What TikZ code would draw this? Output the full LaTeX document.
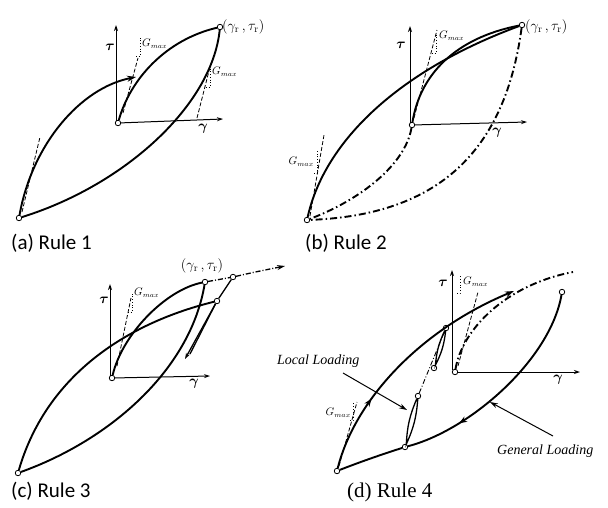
\documentclass[tikz,border=0pt]{standalone}
\usepackage{fontspec}
\newfontfamily\carlito{Carlito}
\newfontfamily\lserif{Liberation Serif}
\usetikzlibrary{arrows.meta,decorations.markings}
\tikzset{
  curve/.style={line width=1.9pt},
  thinc/.style={line width=1.3pt},
  axis/.style={line width=1.0pt,-{Stealth[length=6pt,width=4pt]}},
  tang/.style={line width=0.8pt,dash pattern=on 4pt off 2pt},
  mk/.style={line width=0.7pt,dotted},
  dd/.style={line width=1.9pt,dash pattern=on 7pt off 3pt on 1.5pt off 3pt},
  ddthin/.style={line width=0.9pt,dash pattern=on 5pt off 2pt on 1pt off 2pt},
  pt/.style={circle,draw,fill=white,inner sep=0pt,minimum size=5.5pt,line width=0.8pt},
  gm/.style={inner sep=0pt,font=\fontsize{10.5}{11}\selectfont},
  axl/.style={inner sep=0pt,font=\fontsize{13.5}{14}\selectfont\boldmath},
  rl/.style={inner sep=0pt,font=\fontsize{14.5}{16}\selectfont},
  capt/.style={inner sep=0pt,anchor=base west,font=\carlito\fontsize{21}{24}\selectfont},
  ll/.style={inner sep=0pt,font=\lserif\itshape\fontsize{14}{16}\selectfont},
  bigarr/.style={-{Stealth[length=9pt,width=6pt]}},
  midarr/.style={postaction={decorate},decoration={markings,mark=at position #1 with {\arrow{Stealth[length=8pt,width=6pt]}}}}
}
\begin{document}
\begin{tikzpicture}[x=1pt,y=-1pt]
\useasboundingbox (0,0) rectangle (608,507);
% ================= (a) =================
\node[pt] (aO) at (118,123) {};
\node[pt] (aR) at (220,27) {};
\node[pt] (aL) at (19,218) {};
\coordinate (aTb) at (116,121); \coordinate (aTy) at (116,25);
\coordinate (aGx) at (223,119);
\coordinate (aE) at (136,77);
\draw[axis] (aTb) -- (aTy);
\draw[axis] (aO) -- (aGx);
\draw[curve] (aO) .. controls (130,80) and (165,40) .. (aR);
\draw[curve] (aL) .. controls (125,185) and (212,105) .. (aR);
\draw[curve,bigarr] (aL) .. controls (32,145) and (80,88) .. (aE);
\draw[tang] (22,212) -- (40,137);
\draw[tang] (123,113) -- (138,58);
\draw[tang] (197,118) -- (210,67);
\draw[mk] (136,56) -- (140,56) -- (140,38);
\draw[mk] (206,87) -- (210,87) -- (210,68);
\node[gm,anchor=west] (aG1) at (142,44) {$G_{max}$};
\node[gm,anchor=west] (aG2) at (212,72) {$G_{max}$};
\node[axl] (aTau) at (110,47) {$\tau$};
\node[axl] (aGam) at (203,129) {$\gamma$};
\node[rl,anchor=west] (aRl) at (222,27) {$(\gamma_{\mathrm{r}}\,,\tau_{\mathrm{r}})$};
\node[capt] (aCap) at (11,249) {(a) Rule 1};
% ================= (b) =================
\node[pt] (bO) at (412,125) {};
\node[pt] (bR) at (522,25) {};
\node[pt] (bL) at (307,220) {};
\coordinate (bTb) at (410,123); \coordinate (bTy) at (410,26);
\coordinate (bGx) at (527,122);
\draw[axis] (bTb) -- (bTy);
\draw[axis] (bO) -- (bGx);
\draw[curve] (bL) .. controls (325,140) and (400,70) .. (bR);
\draw[curve] (bO) .. controls (420,75) and (455,38) .. (bR);
\draw[dd] (bO) .. controls (405,165) and (360,200) .. (bL);
\draw[dd] (bR) .. controls (505,150) and (440,215) .. (bL);
\draw[tang] (310,216) -- (324,135);
\draw[tang] (414,118) -- (437,30);
\draw[mk] (314,173) -- (317,173) -- (317,150);
\draw[mk] (432,53) -- (436,53) -- (436,33);
\node[gm,anchor=east] (bG1) at (314,162) {$G_{max}$};
\node[gm,anchor=west] (bG2) at (439,36) {$G_{max}$};
\node[axl] (bTau) at (401,45) {$\tau$};
\node[axl] (bGam) at (497,133) {$\gamma$};
\node[rl,anchor=west] (bRl) at (525,27) {$(\gamma_{\mathrm{r}}\,,\tau_{\mathrm{r}})$};
\node[capt] (bCap) at (305,249) {(b) Rule 2};
% ================= (c) =================
\node[pt] (cO) at (112,378) {};
\node[pt] (cR) at (205,282) {};
\node[pt] (cA) at (217,301) {};
\node[pt] (cB) at (233,277) {};
\node[pt] (cL) at (18,473) {};
\coordinate (cE) at (285,266);
\coordinate (cT) at (185,359);
\coordinate (cT2) at (190,354);
\coordinate (cTb) at (110,376); \coordinate (cTy) at (110,284);
\coordinate (cGx) at (210,376);
\draw[axis] (cTb) -- (cTy);
\draw[axis] (cO) -- (cGx);
\draw[curve] (cO) .. controls (122,335) and (165,290) .. (cR);
\draw[curve] (cL) .. controls (110,440) and (190,370) .. (cR);
\draw[curve] (cL) .. controls (45,380) and (120,325) .. (cA);
\draw[thinc,-{Stealth[length=6pt,width=4pt]}] (cA) -- (cT);
\draw[thinc] (cT2) -- (cA);
\draw[ddthin,line width=1.3pt] (cR) -- (cB);
\draw[thinc] (cA) -- (cB);
\draw[ddthin,line width=1.3pt,-{Stealth[length=8pt,width=5pt]}] (cB) .. controls (255,272) .. (cE);
\draw[tang] (117,366) -- (131,298);
\draw[mk] (128,312) -- (132,312) -- (132,292);
\node[gm,anchor=west] (cG1) at (134,293) {$G_{max}$};
\node[axl] (cTau) at (104,300) {$\tau$};
\node[axl] (cGam) at (194,384) {$\gamma$};
\node[rl] (cRl) at (202,266) {$(\gamma_{\mathrm{r}}\,,\tau_{\mathrm{r}})$};
\node[capt] (cCap) at (11,497) {(c) Rule 3};
% ================= (d) =================
\node[pt] (dO) at (455,372) {};
\node[pt] (dRt) at (562,292) {};
\node[pt] (dL) at (337,471) {};
\node[pt] (dU) at (446,328) {};
\node[pt] (dUb) at (434,368) {};
\node[pt] (dLo) at (405,447) {};
\node[pt] (dLt) at (418,396) {};
\coordinate (dE) at (514,291);
\coordinate (dF) at (573,272);
\coordinate (dTb) at (452,370); \coordinate (dTy) at (452,270);
\coordinate (dGx) at (580,372);
\draw[axis] (dTb) -- (dTy);
\draw[axis] (dO) -- (dGx);
\draw[curve,bigarr,midarr=0.3] (dL) .. controls (355,400) and (420,330) .. (dE);
\draw[dd] (dO) .. controls (462,330) and (505,285) .. (dF);
\draw[curve,midarr=0.75] (dRt) .. controls (550,360) and (470,430) .. (dLo);
\draw[curve] (dLo) .. controls (380,455) and (360,462) .. (dL);
\draw[thinc] (dU) to[bend left=10] (dUb) to[bend left=10] (dU);
\draw[thinc] (dLt) to[bend left=10] (dLo) to[bend left=10] (dLt);
\draw[ddthin] (dLt) -- (dU);
\draw[tang] (458,366) -- (478,292);
\draw[tang] (339,466) -- (357,402);
\draw[mk] (457,293) -- (460,293) -- (460,275);
\draw[mk] (350,420) -- (353,420) -- (353,402);
\node[gm,anchor=west] (dG1) at (463,282) {$G_{max}$};
\node[gm,anchor=east] (dG2) at (351,413) {$G_{max}$};
\node[axl] (dTau) at (443,283) {$\tau$};
\node[axl] (dGam) at (558,380) {$\gamma$};
\node[ll,anchor=west] (dLL) at (277,361) {Local Loading};
\node[ll,anchor=west] (dGL) at (497,451) {General Loading};
\coordinate (dLLs) at (343,373); \coordinate (dLLe) at (407,410);
\coordinate (dGLs) at (553,436); \coordinate (dGLe) at (490,402);
\draw[line width=1pt,-{Stealth[length=8pt,width=5pt]}] (dLLs) -- (dLLe);
\draw[line width=1pt,-{Stealth[length=8pt,width=5pt]}] (dGLs) -- (dGLe);
\node[inner sep=0pt,anchor=base west,font=\lserif\fontsize{21}{24}\selectfont] (dCap) at (347,497) {(d) Rule 4};
\end{tikzpicture}
\end{document}
